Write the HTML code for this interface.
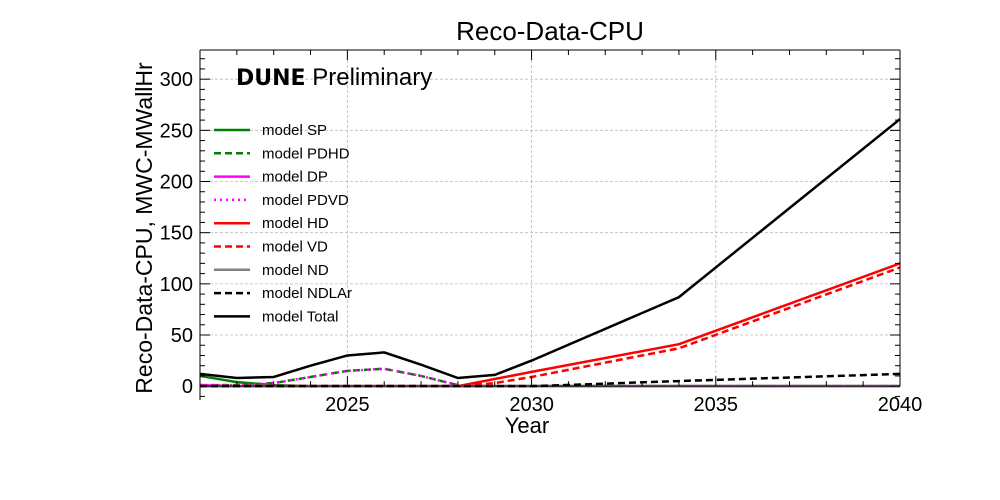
<!DOCTYPE html>
<html><head><meta charset="utf-8"><style>
body{margin:0;background:#fff;}
svg{display:block;font-family:"Liberation Sans",sans-serif;}
</style></head><body>
<svg id="chart" width="1000" height="500">
<text x="550" y="40" font-size="26" text-anchor="middle">Reco-Data-CPU</text>
<text x="527" y="433" font-size="22" text-anchor="middle">Year</text>
<text transform="translate(152,228) rotate(-90)" font-size="23" text-anchor="middle">Reco-Data-CPU, MWC-MWallHr</text>
<g id="grid"></g><g id="series"></g><g id="axes"></g><g id="legend"></g>
<text x="236" y="85" font-size="24"><tspan font-weight="bold" font-family="DejaVu Sans, sans-serif" font-size="22">DUNE</tspan> Preliminary</text>
</svg>
<script>
const years=[2021,2022,2023,2024,2025,2026,2027,2028,2029,2030,2034,2040];
const sp=[10,4,1,0,0,0,0,0,0,0,0,0];
const pdhd=[1,1,3,9,15,17,10,1,0,0,0,0];
const dp=[1,0,0,0,0,0,0,0,0,0,0,0];
const pdvd=[1,1,3,9,15,17,10,1,0,0,0,0];
const hd=[0,0,0,0,0,0,0,0,7,14,41,120];
const vd=[0,0,0,0,0,0,0,0,3,9,37,116];
const nd=[0,0,0,0,0,0,0,0,0,0,0,0];
const ndlar=[0,0,0,0,0,0,0,0,0,0,5,12];
const total=[12,8,9,20,30,33,21,8,11,25,87,261];
const xTicks=[2025,2030,2035,2040];
const yTicks=[0,50,100,150,200,250,300];
const L=200,R=900,T=50,B=400,X0=2021,X1=2040,Y0=-13.5,Y1=328.5;
const sx=v=>L+(v-X0)/(X1-X0)*(R-L);
const sy=v=>B-(v-Y0)/(Y1-Y0)*(B-T);
const NS="http://www.w3.org/2000/svg";
function mk(p,t,a){const e=document.createElementNS(NS,t);for(const k in a)e.setAttribute(k,a[k]);p.appendChild(e);return e;}
const grid=document.getElementById('grid'),axes=document.getElementById('axes'),ser=document.getElementById('series'),leg=document.getElementById('legend');
xTicks.forEach(v=>{const g=mk(grid,'line',{x1:sx(v),x2:sx(v),y1:T,y2:sy(0),stroke:'#bbb','stroke-dasharray':'3,2','stroke-width':0.8});


const t=mk(axes,'text',{x:sx(v),y:sy(0)+25,'font-size':20,'text-anchor':'middle'});t.textContent=v;

});
yTicks.forEach(v=>{const g=mk(grid,'line',{x1:L,x2:R,y1:sy(v),y2:sy(v),stroke:'#bbb','stroke-dasharray':'3,2','stroke-width':0.8});


const t=mk(axes,'text',{x:L-7,y:sy(v)+7,'font-size':20,'text-anchor':'end'});t.textContent=v;

});
for(let y=X0;y<=X1;y++){const maj=y%5==0,len=maj?10:5;
mk(axes,'line',{x1:sx(y),x2:sx(y),y1:sy(0),y2:sy(0)-len,stroke:'#000'});
mk(axes,'line',{x1:sx(y),x2:sx(y),y1:T,y2:T+len,stroke:'#000'});}
for(let v=-10;v<=320;v+=10){const maj=v%50==0,len=maj?10:5;
mk(axes,'line',{x1:L,x2:L+len,y1:sy(v),y2:sy(v),stroke:'#000'});
mk(axes,'line',{x1:R,x2:R-len,y1:sy(v),y2:sy(v),stroke:'#000'});}
mk(axes,'line',{x1:L,x2:L,y1:T,y2:B,stroke:'#000'});
mk(axes,'line',{x1:R,x2:R,y1:T,y2:sy(0),stroke:'#000'});
mk(axes,'line',{x1:L,x2:R,y1:T,y2:T,stroke:'#000'});
mk(axes,'line',{x1:L,x2:R,y1:sy(0),y2:sy(0),stroke:'#000'});
const defs=[['model SP',sp,'#008000',''],['model PDHD',pdhd,'#008000','7,4'],['model DP',dp,'#ff00ff',''],['model PDVD',pdvd,'#ff00ff','2,4'],['model HD',hd,'#ff0000',''],['model VD',vd,'#ff0000','7,4'],['model ND',nd,'#808080',''],['model NDLAr',ndlar,'#000000','7,4'],['model Total',total,'#000000','']];
defs.forEach((d,i)=>{const pts=years.map((y,j)=>sx(y)+','+sy(d[1][j])).join(' ');
const p=mk(ser,'polyline',{points:pts,fill:'none',stroke:d[2],'stroke-width':2.5,'stroke-dasharray':d[3]});


const ly=130+i*23.3;
const g=mk(leg,'g',{});


mk(g,'line',{x1:214,x2:250,y1:ly,y2:ly,stroke:d[2],'stroke-width':2.5,'stroke-dasharray':d[3]});
const t=mk(g,'text',{x:262,y:ly+5,'font-size':15});t.textContent=d[0];});
</script>
</body></html>
